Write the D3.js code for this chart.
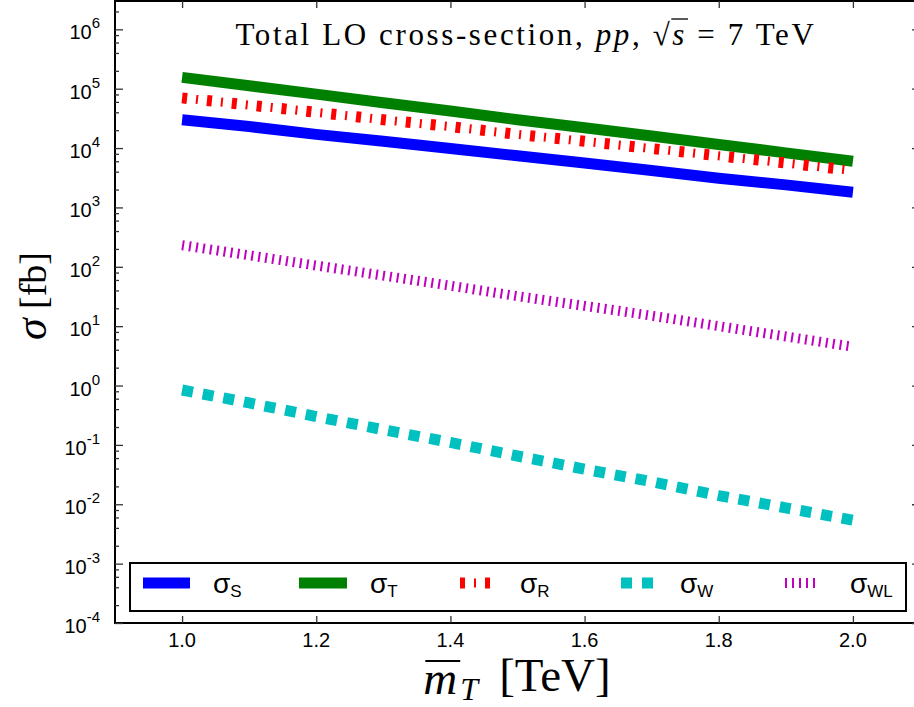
<!DOCTYPE html>
<html>
<head>
<meta charset="utf-8">
<script src="https://cdn.jsdelivr.net/npm/d3@7"></script>
<style>
  body { margin: 0; background: #fff; }
  svg text { fill: #000; }
</style>
</head>
<body>
<div id="chart"></div>
<script>
// top mass values (TeV)
const massTeV = [1.0, 1.1, 1.2, 1.3, 1.4, 1.5, 1.6, 1.7, 1.8, 1.9, 2.0];

// cross-sections in fb
const sigmaS  = [3.0e4, 2.3e4, 1.7e4, 1.3e4, 9.8e3, 7.4e3, 5.6e3, 4.2e3, 3.1e3, 2.4e3, 1.8e3];
const sigmaT  = [1.55e5, 1.12e5, 8.1e4, 5.8e4, 4.2e4, 3.0e4, 2.2e4, 1.6e4, 1.15e4, 8.3e3, 6.0e3];
const sigmaR  = [7.0e4, 5.3e4, 4.0e4, 3.0e4, 2.3e4, 1.7e4, 1.3e4, 9.8e3, 7.4e3, 5.6e3, 4.2e3];
const sigmaW  = [0.84, 0.51, 0.30, 0.18, 0.11, 0.065, 0.039, 0.024, 0.014, 0.0087, 0.0054];
const sigmaWL = [231, 156, 105, 71, 48, 32, 22, 15, 10, 6.7, 4.5];

const seriesSubs = ["S", "T", "R", "W", "WL"];
const seriesVals = [sigmaS, sigmaT, sigmaR, sigmaW, sigmaWL];

const xTickLabels = ["1.0", "1.2", "1.4", "1.6", "1.8", "2.0"];
const yTickExps = [-4, -3, -2, -1, 0, 1, 2, 3, 4, 5, 6];

// line styles, each series may have several stroke layers
const styles = [
  [{ color: "#0000ff", w: 11, dash: null }],
  [{ color: "#008000", w: 11, dash: null }],
  [{ color: "#ff0000", w: 11, dash: "5 20" }, { color: "#ff0000", w: 9, dash: "0 14 2 9" }],
  [{ color: "#00c0c0", w: 11, dash: "11 10" }],
  [{ color: "#c000c0", w: 10, dash: "2 5" }]
];

const width = 914, height = 707;
const plotL = 115, plotT = 1, plotB = 623, plotR = 920;
const sans = "Liberation Sans, Arial, sans-serif";
const serif = "Liberation Serif, Times New Roman, serif";

const svg = d3.select("#chart").append("svg")
  .attr("width", width)
  .attr("height", height);

const x = d3.scaleLinear().domain([0.9, 2.1]).range([plotL, plotR]);
const y = d3.scaleLog().domain([1e-4, 3e6]).range([plotB, plotT]);

// frame
svg.append("rect")
  .attr("x", plotL).attr("y", plotT)
  .attr("width", plotR - plotL).attr("height", plotB - plotT)
  .attr("fill", "none").attr("stroke", "#000").attr("stroke-width", 2);

// y ticks (inside, both sides)
let majors = yTickExps.map(e => Math.pow(10, e));
let minors = [];
yTickExps.forEach(e => {
  [2, 4, 6, 8].forEach(m => {
    let v = m * Math.pow(10, e);
    if (v < 3e6) minors.push(v);
  });
});

function yAxis(side, vals, len) {
  let ax = side === "left" ? d3.axisLeft(y) : d3.axisRight(y);
  let g = svg.append("g")
    .attr("transform", `translate(${side === "left" ? plotL : plotR},0)`)
    .call(ax.tickValues(vals).tickSize(-len).tickFormat(""));
  g.select(".domain").remove();
  g.selectAll("line").attr("stroke", "#333").attr("stroke-width", 1.3);
}
yAxis("left", majors, 8);
yAxis("left", minors, 4);
yAxis("right", majors, 8);
yAxis("right", minors, 4);

// x ticks bottom and top
const xTicks = xTickLabels.map(Number);
[["bottom", plotB], ["top", plotT]].forEach(([side, pos]) => {
  let ax = side === "bottom" ? d3.axisBottom(x) : d3.axisTop(x);
  let g = svg.append("g")
    .attr("transform", `translate(0,${pos})`)
    .call(ax.tickValues(xTicks).tickSize(-7).tickFormat(""));
  g.select(".domain").remove();
  g.selectAll("line").attr("stroke", "#333").attr("stroke-width", 1.3);
});

// tick labels
svg.append("g")
  .attr("font-family", sans)
  .attr("font-size", 20)
  .attr("text-anchor", "middle")
  .selectAll("text")
  .data(xTickLabels)
  .join("text")
  .attr("x", d => x(+d))
  .attr("y", 647)
  .text(d => d);

let yl = svg.append("g")
  .attr("font-family", sans)
  .attr("text-anchor", "end")
  .selectAll("text")
  .data(yTickExps)
  .join("text")
  .attr("x", 100)
  .attr("y", d => y(Math.pow(10, d)) + 10)
  .attr("font-size", 20);
yl.append("tspan").text("10");
yl.append("tspan").attr("dy", -11).attr("font-size", 15).text(d => d);

// curves
const line = d3.line()
  .x((d, i) => x(massTeV[i]))
  .y(d => y(d));

seriesVals.forEach((vals, si) => {
  styles[si].forEach(st => {
    svg.append("path")
      .datum(vals)
      .attr("d", line)
      .attr("fill", "none")
      .attr("stroke", st.color)
      .attr("stroke-width", st.w)
      .attr("stroke-dasharray", st.dash)
      .attr("stroke-linecap", "butt");
  });
});

// legend
const legendSwatchX = [143, 299, 460, 621, 785];
const legendTextX = [213, 370, 520, 680, 850];
const legendSwatchLen = [47, 48, 31, 32, 34];
const lg = svg.append("g");
lg.append("rect")
  .attr("x", 130).attr("y", 563)
  .attr("width", 776).attr("height", 48)
  .attr("fill", "#fff").attr("stroke", "#000").attr("stroke-width", 2);
seriesSubs.forEach((s, i) => {
  styles[i].forEach(st => {
    lg.append("line")
      .attr("x1", legendSwatchX[i]).attr("x2", legendSwatchX[i] + legendSwatchLen[i])
      .attr("y1", 583).attr("y2", 583)
      .attr("stroke", st.color)
      .attr("stroke-width", st.w)
      .attr("stroke-dasharray", st.dash);
  });
  let t = lg.append("text")
    .attr("x", legendTextX[i]).attr("y", 593)
    .attr("font-family", sans)
    .attr("font-size", 28);
  t.append("tspan").text("σ");
  t.append("tspan").attr("dy", 4).attr("font-size", 17).text(s);
});

// stretch a text to the wanted length with letter spacing
function spreadText(sel, len) {
  let node = sel.node();
  let cur = node.getComputedTextLength();
  let n = node.getNumberOfChars();
  sel.attr("letter-spacing", Math.max(0, (len - cur) / n));
}

// title
const title = svg.append("text")
  .attr("x", 526).attr("y", 45)
  .attr("text-anchor", "middle")
  .attr("font-family", serif)
  .attr("font-size", 31);
title.append("tspan").text("Total LO cross-section, ");
title.append("tspan").attr("font-style", "italic").text("pp");
title.append("tspan").text(", √");
title.append("tspan").attr("font-style", "italic").text("s");
title.append("tspan").text(" = 7 TeV");
spreadText(title, 581);
{
  let node = title.node();
  let iRoot = node.textContent.indexOf("√");
  let a = node.getExtentOfChar(iRoot), b = node.getExtentOfChar(iRoot + 1);
  svg.append("line")
    .attr("x1", a.x + a.width - 1).attr("x2", b.x + b.width + 1)
    .attr("y1", a.y + 2).attr("y2", a.y + 2)
    .attr("stroke", "#000").attr("stroke-width", 1.3);
}

// x label
const xl = svg.append("text")
  .attr("x", 517).attr("y", 694)
  .attr("text-anchor", "middle")
  .attr("font-family", serif)
  .attr("font-size", 47);
xl.append("tspan").attr("font-style", "italic").attr("letter-spacing", 3).text("m");
xl.append("tspan").attr("font-style", "italic").attr("font-size", "0.68em").attr("dy", "0.2em").text("T");
xl.append("tspan").attr("dy", "-0.2em").attr("dx", "0.45em").text("[TeV]");
{
  let e = xl.node().getExtentOfChar(0);
  svg.append("line")
    .attr("x1", e.x + 2).attr("x2", e.x + e.width)
    .attr("y1", e.y + 9).attr("y2", e.y + 9)
    .attr("stroke", "#000").attr("stroke-width", 2);
}

// y label
const ylab = svg.append("text")
  .attr("transform", "translate(46,296) rotate(-90)")
  .attr("text-anchor", "middle")
  .attr("font-family", serif)
  .attr("font-size", 38);
ylab.append("tspan").attr("font-style", "italic").attr("font-size", "1.15em").text("σ");
ylab.append("tspan").text(" [fb]");
</script>
</body>
</html>
